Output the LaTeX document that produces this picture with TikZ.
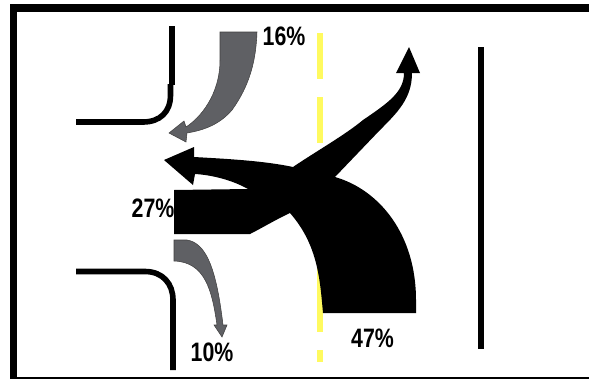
\documentclass[tikz,border=0pt]{standalone}
\usepackage{fontspec}
\setmainfont{Liberation Sans}
\tikzset{
  road/.style={line width=4.2pt,black},
  lane/.style={line width=4.4pt,color=lanecol},
  flowgrey/.style={fill=flowcol,draw=black!75,line width=0.4pt,line join=miter},
  flowblack/.style={fill=black},
  pct/.style={font=\fontsize{20pt}{22pt}\bfseries,text=black,xscale=0.8,inner sep=0pt}
}
\definecolor{lanecol}{RGB}{255,250,95}
\definecolor{flowcol}{RGB}{95,96,100}
\begin{document}
\begin{tikzpicture}[x=0.75pt,y=-0.75pt]
\useasboundingbox (0,0) rectangle (589,379);
\fill[white] (0,0) rectangle (589,379);
% frame
\fill[black] (10,4) rectangle (589,12);
\fill[black] (10,4) rectangle (17,379);
\fill[black] (10,376.5) rectangle (589,379);
% lane dashes
\draw[lane] (320,33) -- (320,79);
\draw[lane] (320,97) -- (320,143);
\draw[lane] (320,265) -- (320,332);
\draw[lane] (320,350) -- (320,362);
% kerbs
\draw[road] (172,26) -- (172,85);
\draw[road] (170.5,84) -- (170.5,95) .. controls (170.5,112) and (160,122) .. (143,122) -- (76,122);
\draw[road] (76,271.5) -- (145,271.5) .. controls (163,271.5) and (173,284) .. (173,300) -- (173,370);
\draw[line width=4.2pt] (481,47) -- (481,349);
% black flows
\fill[flowblack] (164,160) -- (194,147) -- (194,157)
  .. controls (230,159) and (265,161) .. (293,167)
  .. controls (315,152) and (345,135) .. (363,120)
  .. controls (388,103) and (404,92) .. (404,73)
  -- (396,73) -- (409,47) -- (420,73) -- (412,73)
  .. controls (412,98) and (398,112) .. (380,130)
  -- (335,177)
  .. controls (380,190) and (416,235) .. (416,300)
  -- (416,313) -- (323,313)
  .. controls (320,280) and (318,245) .. (290,213)
  .. controls (275,220) and (262,228) .. (250,234)
  -- (174,234) -- (174,190) -- (248,189)
  .. controls (232,180) and (212,175) .. (195,174)
  -- (193,185) -- cycle;
% grey flows
\filldraw[flowgrey] (220,32) -- (257,32)
  .. controls (256,60) and (250,85) .. (232,110)
  .. controls (220,124) and (205,130) .. (187,133)
  -- (186,142) -- (169,133) -- (184,121) -- (186,127)
  .. controls (200,118) and (220,95) .. (220,60)
  -- cycle;
\filldraw[flowgrey] (174,240) -- (187,240)
  .. controls (205,243) and (216,265) .. (223,325)
  -- (227,325) -- (222,337) -- (214,325) -- (217,325)
  .. controls (212,290) and (205,262) .. (174,261)
  -- cycle;
% labels
\node[pct] (a) at (284,36) {16\%};
\node[pct] (b) at (153,208) {27\%};
\node[pct] (c) at (212,352) {10\%};
\node[pct] (d) at (372.5,338) {47\%};
\end{tikzpicture}
\end{document}
